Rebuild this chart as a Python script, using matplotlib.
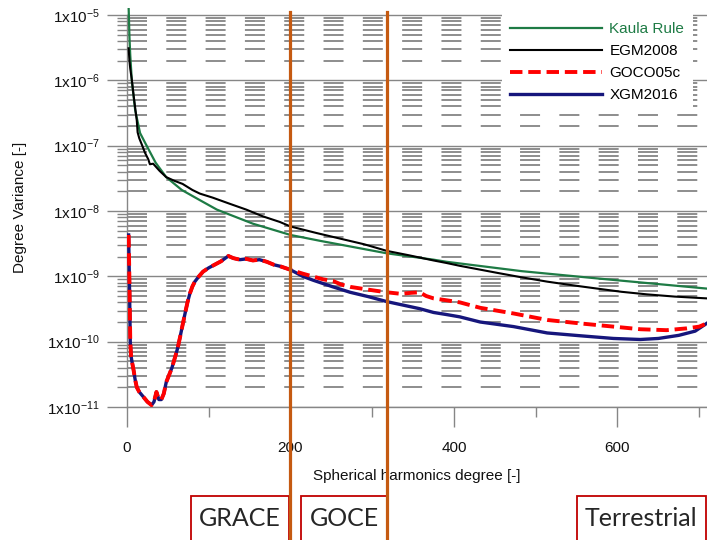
import numpy as np
import matplotlib
matplotlib.use("Agg")
import matplotlib.pyplot as plt
from matplotlib.ticker import FixedLocator, FuncFormatter, NullFormatter
from matplotlib.patches import Rectangle
from matplotlib.lines import Line2D
from matplotlib.transforms import blended_transform_factory

# ---------------- data ----------------
kaula_n = [2, 3, 4, 6, 10, 16, 24, 35, 48, 67, 89, 110, 154, 200, 236, 318,
           375, 391, 483, 575, 709]
kaula_v = [1.3e-5, 4.6e-6, 2.4e-6, 9.5e-7, 3.5e-7, 1.56e-7, 1.0e-7, 5.5e-8,
           3.3e-8, 2.1e-8, 1.47e-8, 1.05e-8, 6.4e-9, 4.3e-9, 3.5e-9, 2.25e-9,
           1.8e-9, 1.67e-9, 1.2e-9, 9.3e-10, 6.5e-10]

egm_n = [2, 3, 4, 6, 8, 10, 12, 13, 15, 18, 22, 26, 28, 32, 40, 48, 58, 68,
         80, 89, 105, 125, 146, 166, 187, 200, 215, 232, 260, 290, 318, 345,
         375, 391, 407, 430, 453, 480, 514, 545, 575, 605, 636, 670, 709]
egm_v = [3.1e-6, 2.0e-6, 1.5e-6, 1.0e-6, 6.0e-7, 3.8e-7, 2.4e-7, 1.6e-7,
         1.3e-7, 1.05e-7, 7.8e-8, 6.2e-8, 5.2e-8, 5.3e-8, 4.1e-8, 3.3e-8,
         2.9e-8, 2.6e-8, 2.1e-8, 1.85e-8, 1.6e-8, 1.3e-8, 1.05e-8, 8.3e-9,
         6.8e-9, 5.8e-9, 5.2e-9, 4.6e-9, 3.8e-9, 3.1e-9, 2.45e-9, 2.1e-9,
         1.75e-9, 1.6e-9, 1.45e-9, 1.28e-9, 1.13e-9, 9.8e-10, 8.3e-10,
         7.3e-10, 6.5e-10, 5.8e-10, 5.3e-10, 4.9e-10, 4.6e-10]

low_n = [2, 3, 4, 5, 6, 8, 10, 12, 15, 20, 25, 30, 33, 36, 39, 42, 45, 48,
         52, 55, 59, 62, 65, 68, 71, 74, 77, 80, 83, 88, 93, 100, 106, 115,
         124, 130, 138, 146, 154, 162, 171, 180, 187, 200]
low_v = [4.3e-9, 8.0e-10, 1.0e-10, 6.0e-11, 5.0e-11, 3.7e-11, 2.6e-11,
         2.0e-11, 1.7e-11, 1.43e-11, 1.2e-11, 1.07e-11, 1.2e-11, 1.7e-11,
         1.3e-11, 1.3e-11, 1.6e-11, 2.4e-11, 3.2e-11, 4.0e-11, 5.9e-11,
         8.0e-11, 1.19e-10, 1.8e-10, 2.7e-10, 4.0e-10, 5.5e-10, 7.0e-10,
         8.3e-10, 1.0e-9, 1.18e-9, 1.35e-9, 1.48e-9, 1.7e-9, 2.05e-9, 1.9e-9,
         1.8e-9, 1.85e-9, 1.75e-9, 1.8e-9, 1.67e-9, 1.5e-9, 1.43e-9, 1.26e-9]

goco_hi_n = [215, 228, 240, 252, 262, 273, 290, 305, 318, 335, 348, 358, 366,
             375, 391, 407, 432, 473, 514, 555, 595, 628, 660, 685, 700, 709]
goco_hi_v = [1.1e-9, 9.9e-10, 9.0e-10, 8.5e-10, 7.5e-10, 6.9e-10, 6.4e-10,
             6.0e-10, 5.7e-10, 5.4e-10, 5.6e-10, 5.7e-10, 5.0e-10, 4.6e-10,
             4.3e-10, 4.0e-10, 3.3e-10, 2.7e-10, 2.15e-10, 1.9e-10, 1.7e-10,
             1.55e-10, 1.5e-10, 1.6e-10, 1.7e-10, 1.9e-10]

xgm_hi_n = [215, 228, 252, 273, 295, 318, 358, 375, 391, 407, 432, 473, 514,
            555, 595, 628, 650, 675, 695, 709]
xgm_hi_v = [1.0e-9, 8.7e-10, 6.9e-10, 5.7e-10, 4.9e-10, 4.1e-10, 3.2e-10,
            2.8e-10, 2.6e-10, 2.4e-10, 2.0e-10, 1.7e-10, 1.36e-10, 1.23e-10,
            1.12e-10, 1.08e-10, 1.12e-10, 1.25e-10, 1.45e-10, 1.9e-10]

goco_n = low_n + goco_hi_n
goco_v = low_v + goco_hi_v
xgm_n = low_n + xgm_hi_n
xgm_v = low_v + xgm_hi_v

series_labels = ["Kaula Rule", "EGM2008", "GOCO05c", "XGM2016"]
x_major = [0, 200, 400, 600]
x_minor = [100, 300, 500, 700]
y_major = [1e-11, 1e-10, 1e-9, 1e-8, 1e-7, 1e-6, 1e-5]
boundaries = [200, 318]
bands = [("GRACE", 78, 198), ("GOCE", 213, 318), ("Terrestrial", 550, 708)]

# ---------------- style ----------------
plt.rcParams["font.family"] = ["Liberation Sans", "DejaVu Sans"]
plt.rcParams["mathtext.fontset"] = "custom"
plt.rcParams["mathtext.rm"] = "Liberation Sans"
plt.rcParams["mathtext.default"] = "regular"

GRID = "#868686"
fig = plt.figure(figsize=(7.07, 5.40), dpi=100)
ax = fig.add_axes([127 / 707, 133 / 540, 580 / 707, 399.4 / 540])
ax.set_yscale("log")
ax.set_xlim(0, 709.5)
ax.set_ylim(1e-11, 1.3e-5)

ax.yaxis.set_major_locator(FixedLocator(y_major))
minor = [m * 10.0 ** e for e in range(-11, -5) for m in range(2, 10)]
ax.yaxis.set_minor_locator(FixedLocator(minor))
ax.yaxis.set_minor_formatter(NullFormatter())
ax.yaxis.set_major_formatter(FuncFormatter(
    lambda v, p: "1x10$^{%d}$" % int(round(np.log10(v)))))
ax.xaxis.set_major_locator(FixedLocator(x_major))
ax.xaxis.set_minor_locator(FixedLocator(x_minor))

ax.set_axisbelow(True)
ax.yaxis.grid(True, which="major", color=GRID, lw=1.0, ls="-")
ax.yaxis.grid(True, which="minor", color="#7a7a7a", lw=1.2,
              linestyle=(0, (14.4 / 1.2, 13.9 / 1.2)))

for s in ("top", "right"):
    ax.spines[s].set_visible(False)
for s in ("left", "bottom"):
    ax.spines[s].set_color(GRID)
    ax.spines[s].set_linewidth(1.0)
ax.spines["left"].set_bounds(1e-11, 1e-5)

ax.tick_params(axis="both", which="major", length=14.4, width=1.0,
               color=GRID, labelsize=11, labelcolor="#111111")
ax.tick_params(axis="both", which="minor", length=7.2, width=1.0, color=GRID)
ax.tick_params(axis="y", which="major", pad=5)
ax.tick_params(axis="x", which="major", pad=10)

ax.set_xlabel("Spherical harmonics degree [-]", fontsize=11, labelpad=10,
              color="#111111")
ax.set_ylabel("Degree Variance [-]", fontsize=11, color="#111111")
ax.yaxis.set_label_coords(-0.172, 0.5)

# ---------------- series ----------------
GREEN = "#1e7b45"
NAVY = "#16167c"
RED = "#ff0000"
l_k, = ax.plot(kaula_n, kaula_v, color=GREEN, lw=1.6, zorder=3)
l_e, = ax.plot(egm_n, egm_v, color="black", lw=1.5, zorder=4)
l_x, = ax.plot(xgm_n, xgm_v, color=NAVY, lw=2.4, zorder=5)
l_g, = ax.plot(goco_n, goco_v, color=RED, lw=2.8, zorder=6,
               linestyle=(0, (3.2, 1.5)))

leg = ax.legend([l_k, l_e, l_g, l_x], series_labels, loc="upper left",
                bbox_to_anchor=(494 / 707, 1 - 6 / 540),
                bbox_transform=fig.transFigure, fontsize=11,
                frameon=True, facecolor="white", edgecolor="none",
                framealpha=1.0, fancybox=False, borderpad=0.55,
                handlelength=6.0, handletextpad=0.5, labelspacing=0.52)
leg.set_zorder(7)
leg.get_texts()[0].set_color(GREEN)

# ---------------- annotations ----------------
trans = blended_transform_factory(ax.transData, fig.transFigure)
for b in boundaries:
    fig.add_artist(Line2D([b, b], [0, 1 - 12 / 540], transform=trans,
                          color="#c55a11", lw=2.3, zorder=10))

box_top = 1 - 496 / 540
for name, x0, x1 in bands:
    fig.add_artist(Rectangle((x0, -0.02), x1 - x0, box_top + 0.02,
                             transform=trans, facecolor="white",
                             edgecolor="#c00000", lw=1.3, zorder=9))
    fig.text(0, 1 - 519 / 540, name, transform=trans, fontsize=18,
             family=["Lato", "DejaVu Sans"], color="#262626",
             ha="center", va="center", zorder=11).set_x((x0 + x1) / 2)

fig.savefig("out.png", dpi=100)
